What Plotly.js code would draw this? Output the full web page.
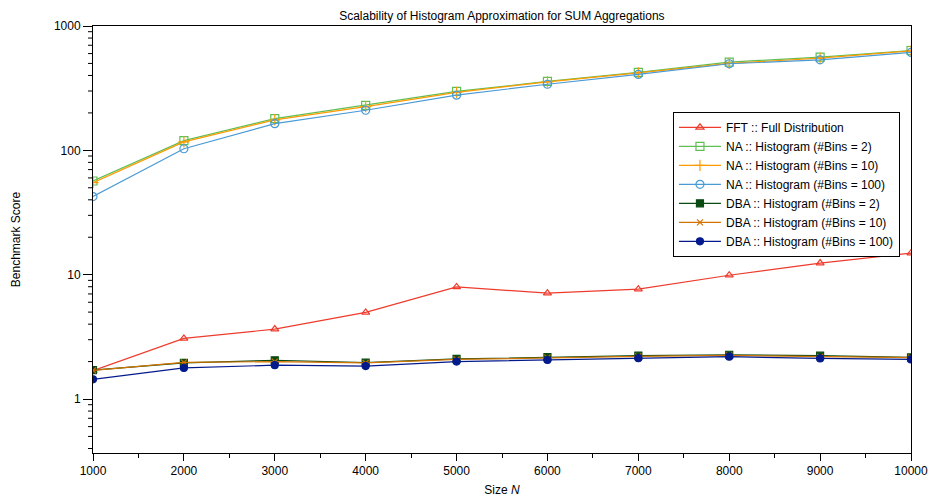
<!DOCTYPE html>
<html><head><meta charset="utf-8">
<script src="https://cdn.plot.ly/plotly-3.0.1.min.js"></script>
<style>body{margin:0;background:#fff}#c{width:936px;height:502px}</style>
</head><body><div id="c"></div>
<script>
const sizes = [1000,2000,3000,4000,5000,6000,7000,8000,9000,10000];
const fftFull = [1.69,3.07,3.65,4.97,7.98,7.1,7.65,9.9,12.4,14.9];
const naBins2 = [56.7,119.6,180,230,298,358,424,512,562,635];
const naBins10 = [55,117,176,225,293,355,420,500,552,630];
const naBins100 = [42.5,103,164,210,278,340,408,497,535,613];
const dbaBins2 = [1.71,1.95,2.05,1.96,2.1,2.17,2.23,2.27,2.23,2.16];
const dbaBins10 = [1.70,1.97,2.0,1.95,2.08,2.15,2.2,2.24,2.18,2.15];
const dbaBins100 = [1.44,1.78,1.87,1.84,2.0,2.06,2.13,2.19,2.12,2.08];
const names = ["FFT :: Full Distribution","NA :: Histogram (#Bins = 2)","NA :: Histogram (#Bins = 10)","NA :: Histogram (#Bins = 100)","DBA :: Histogram (#Bins = 2)","DBA :: Histogram (#Bins = 10)","DBA :: Histogram (#Bins = 100)"];
const yMajorTicks = [1,10,100,1000];
const yMajorLabels = ['1','10','100','1000'];
const yMinorTicks = [0.4,0.5,0.6,0.7,0.8,0.9,2,3,4,5,6,7,8,9,20,30,40,50,60,70,80,90,200,300,400,500,600,700,800,900];

function tr(name, y, color, symbol, size, width){
  return {x: sizes, y: y, name: name, type:'scatter', mode:'lines+markers',
    line:{color:color, width:width||1.2},
    marker:{symbol:symbol, size:size, color:color, line:{color:color, width:1.2}}};
}
const data = [
  tr(names[0], fftFull, '#ee3b2c', 'triangle-up-open', 7),
  tr(names[1], naBins2, '#5fbf55', 'square-open', 8),
  tr(names[2], naBins10, '#ff9a00', 'cross-thin-open', 8),
  tr(names[3], naBins100, '#4a9ad4', 'circle-open', 8),
  tr(names[4], dbaBins2, '#0b4a12', 'square', 7),
  tr(names[5], dbaBins10, '#d27300', 'x-thin-open', 6),
  tr(names[6], dbaBins100, '#031a8c', 'circle', 7)
];
const plotW = 936 - 93 - 25;
const minorTickShapes = yMinorTicks.map(v => ({type:'line', xref:'paper', yref:'y', x0:-5/plotW, x1:0, y0:v, y1:v,
  line:{color:'#000', width:1}, layer:'above'}));
const yRange = [Math.log10(0.368),3];
const layout = {
  width:936, height:502,
  margin:{l:93, r:25, t:26, b:49},
  paper_bgcolor:'#fff', plot_bgcolor:'#fff',
  font:{family:'Liberation Sans, Arial, sans-serif', size:12, color:'#000'},
  title:{text:'Scalability of Histogram Approximation for SUM Aggregations', x:0.5362, xanchor:'center', y:0.968, yanchor:'middle', font:{size:12}},
  xaxis:{range:[1000,10000], dtick:1000, tick0:1000, tickformat:'d', ticks:'outside', ticklen:7, tickcolor:'#000',
    showline:true, linecolor:'#000', linewidth:1, mirror:true, showgrid:false, zeroline:false,
    minor:{dtick:500, tick0:1000, ticks:'outside', ticklen:4, tickcolor:'#000', showgrid:false},
    title:{text:'Size <i>N</i>', font:{size:12}, standoff:8}, tickfont:{size:12}},
  yaxis:{type:'log', range:yRange, tickmode:'array', tickvals:yMajorTicks, ticktext:yMajorLabels,
    ticks:'outside', ticklen:9, tickcolor:'#000',
    showline:true, linecolor:'#000', linewidth:1, mirror:true, showgrid:false, zeroline:false,
    title:{text:'Benchmark Score', font:{size:12}, standoff:30}, tickfont:{size:12}},
  shapes: minorTickShapes,
  showlegend:true,
  legend:{x:0.709, y:0.799, xanchor:'left', yanchor:'top', bordercolor:'#000', borderwidth:1,
    bgcolor:'#fff', font:{size:12}, tracegroupgap:0, itemwidth:42}
};
Plotly.newPlot('c', data, layout, {displayModeBar:false, staticPlot:true});
</script></body></html>
